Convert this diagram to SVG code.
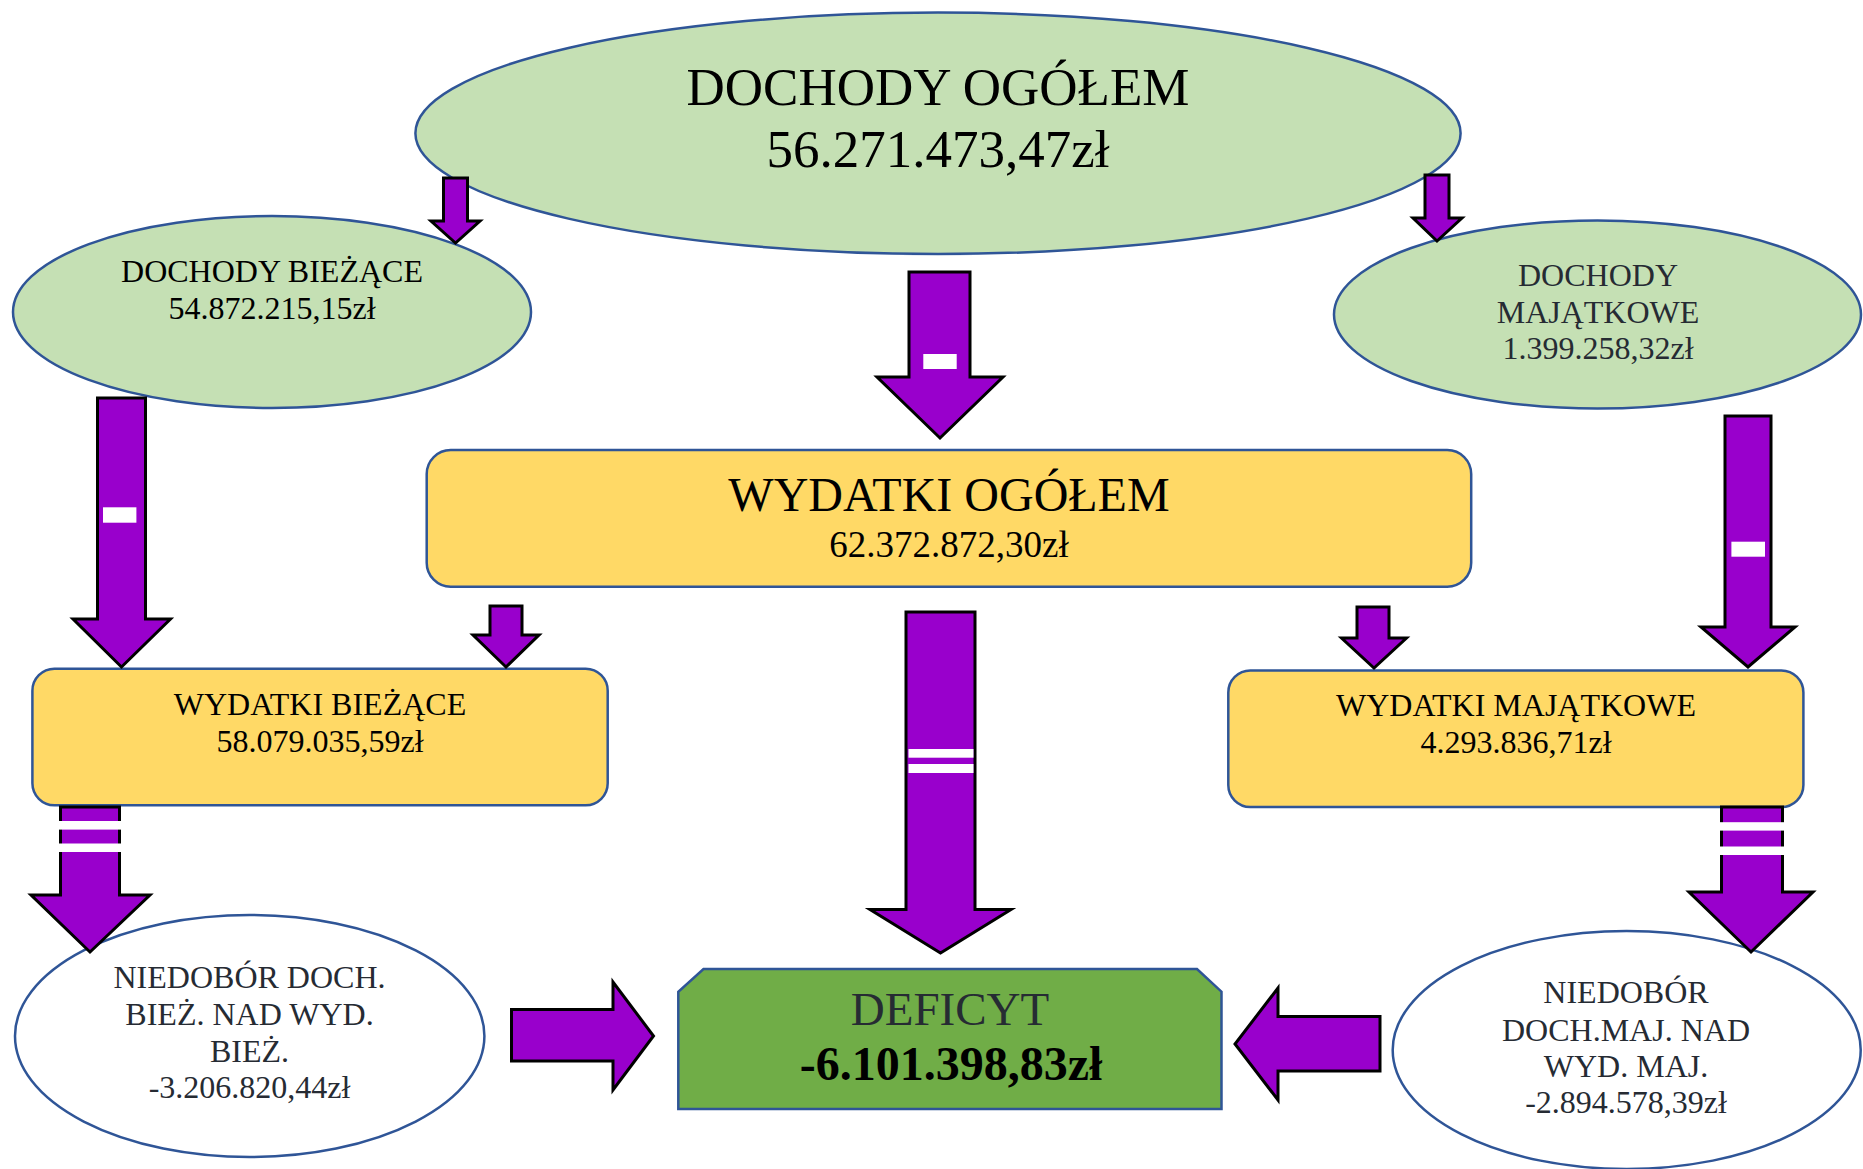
<svg xmlns="http://www.w3.org/2000/svg" width="1863" height="1169" viewBox="0 0 1863 1169">
<style>
.t{font-family:"Liberation Serif","Times New Roman",serif;text-anchor:middle;fill:#000}
.s{font-size:32px}
.g{fill:#262b33}
.ell{fill:#c5e0b4;stroke:#2f5597;stroke-width:2.5}
.wh{fill:#ffffff;stroke:#2f5597;stroke-width:2.5}
.box{fill:#ffd966;stroke:#2f5597;stroke-width:2.5}
.arr{fill:#9900cc;stroke:#000;stroke-width:3;stroke-linejoin:miter}
.bar{fill:#ffffff}
</style>
<rect width="1863" height="1169" fill="#ffffff"/>
<g id="dochody-ogolem">
<ellipse class="ell" cx="938" cy="133.3" rx="522.6" ry="120.7"/>
<text class="t" x="938" y="105" font-size="53">DOCHODY OGÓŁEM</text>
<text class="t" x="938" y="166.5" font-size="53">56.271.473,47zł</text>
</g>
<g id="dochody-biezace">
<ellipse class="ell" cx="272" cy="312" rx="259" ry="96"/>
<text class="t s" x="272" y="282">DOCHODY BIEŻĄCE</text>
<text class="t s" x="272" y="318.5">54.872.215,15zł</text>
</g>
<g id="dochody-majatkowe">
<ellipse class="ell" cx="1597.5" cy="314.5" rx="263.5" ry="94"/>
<text class="t s g" x="1598" y="286">DOCHODY</text>
<text class="t s g" x="1598" y="322.7">MAJĄTKOWE</text>
<text class="t s g" x="1598" y="359">1.399.258,32zł</text>
</g>
<g id="wydatki-ogolem">
<rect class="box" x="426.7" y="450" width="1044.5" height="136.7" rx="24" ry="24"/>
<text class="t" x="949" y="511" font-size="48">WYDATKI OGÓŁEM</text>
<text class="t" x="949" y="557" font-size="37">62.372.872,30zł</text>
</g>
<g id="wydatki-biezace">
<rect class="box" x="32.4" y="668.7" width="575.3" height="136.6" rx="22" ry="22"/>
<text class="t s" x="320" y="715">WYDATKI BIEŻĄCE</text>
<text class="t s" x="320" y="752">58.079.035,59zł</text>
</g>
<g id="wydatki-majatkowe">
<rect class="box" x="1228.3" y="670.4" width="575.1" height="136.6" rx="22" ry="22"/>
<text class="t s" x="1516" y="716">WYDATKI MAJĄTKOWE</text>
<text class="t s" x="1516" y="753">4.293.836,71zł</text>
</g>
<g id="niedobor-biezacy">
<ellipse class="wh" cx="249.7" cy="1036" rx="234.7" ry="121"/>
<text class="t s g" x="249.5" y="988">NIEDOBÓR DOCH.</text>
<text class="t s g" x="249.5" y="1025">BIEŻ. NAD WYD.</text>
<text class="t s g" x="249.5" y="1062">BIEŻ.</text>
<text class="t s g" x="249.5" y="1098">-3.206.820,44zł</text>
</g>
<g id="niedobor-majatkowy">
<ellipse class="wh" cx="1626.7" cy="1050" rx="234" ry="119"/>
<text class="t s g" x="1626" y="1003">NIEDOBÓR</text>
<text class="t s g" x="1626" y="1040.5">DOCH.MAJ. NAD</text>
<text class="t s g" x="1626" y="1077">WYD. MAJ.</text>
<text class="t s g" x="1626" y="1113">-2.894.578,39zł</text>
</g>
<g id="deficyt">
<polygon points="703.5,969 1197,969 1221.5,991.7 1221.5,1109 678.3,1109 678.3,991.7" fill="#70ad47" stroke="#2f5597" stroke-width="2.5"/>
<text class="t g" x="950" y="1024.5" font-size="47">DEFICYT</text>
<text class="t" x="951" y="1079.5" font-size="48" font-weight="bold">-6.101.398,83zł</text>
</g>
<g id="connectors">
<polygon class="arr" points="443.5,178 467.5,178 467.5,221 480,221 455.5,243 431,221 443.5,221"/>
<polygon class="arr" points="1425,175 1449,175 1449,218 1462,218 1437,241 1413,218 1425,218"/>
<polygon class="arr" points="909,272 970,272 970,377 1003,377 940,438 877,377 909,377"/>
<rect class="bar" x="923.3" y="354" width="33.4" height="15"/>
<polygon class="arr" points="97.5,398 145.5,398 145.5,619 170.5,619 121.5,667 73,619 97.5,619"/>
<rect class="bar" x="103" y="507.3" width="33.4" height="15.4"/>
<polygon class="arr" points="1725,416 1771,416 1771,627 1795,627 1748,667 1701,627 1725,627"/>
<rect class="bar" x="1731.4" y="541.7" width="33.6" height="15"/>
<polygon class="arr" points="490,606 522,606 522,635 539,635 506,667 473,635 490,635"/>
<polygon class="arr" points="1357,607 1389,607 1389,638 1406.5,638 1374,668 1341.5,638 1357,638"/>
<polygon class="arr" points="906,612 975,612 975,909.5 1011,909.5 940.5,953 870,909.5 906,909.5"/>
<rect class="bar" x="908.5" y="749" width="65" height="8.7"/>
<rect class="bar" x="908.5" y="764" width="65" height="9"/>
<polygon class="arr" points="60.5,807 119.5,807 119.5,895 150,895 90,952 31,895 60.5,895"/>
<rect class="bar" x="59" y="821" width="62" height="8.6"/>
<rect class="bar" x="59" y="843.5" width="62" height="8.5"/>
<polygon class="arr" points="1721.5,807 1782.5,807 1782.5,892 1813,892 1751,952 1689,892 1721.5,892"/>
<rect class="bar" x="1720" y="822.2" width="64" height="8.4"/>
<rect class="bar" x="1720" y="846.5" width="64" height="8.5"/>
<polygon class="arr" points="511.5,1009.5 613,1009.5 613,982 653.5,1036 613,1090 613,1061 511.5,1061"/>
<polygon class="arr" points="1380,1016.5 1278,1016.5 1278,988 1235,1044 1278,1100 1278,1071 1380,1071"/>
</g>
</svg>
